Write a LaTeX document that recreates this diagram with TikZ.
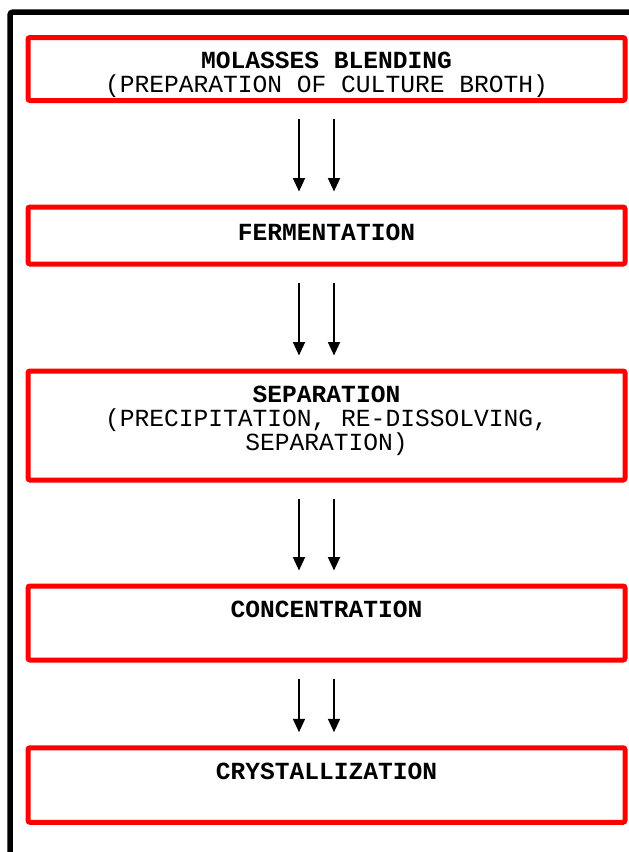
\documentclass[tikz,border=0pt]{standalone}
\usepackage{fontspec}
\newfontfamily\courier{Liberation Mono}
\usepackage{tikz}
\usetikzlibrary{positioning,calc,arrows.meta}
\definecolor{boxRed}{RGB}{255, 0, 0}
\tikzset{
    stage/.style={draw=boxRed,line width=5pt,rounded corners=2pt,minimum width=597pt,inner sep=0pt},
    stagetext/.style={anchor=base,align=center,inner sep=0pt,font=\courier\fontsize{24.6}{24}\selectfont},
    flow/.style={-{Triangle[length=13.5pt,width=12pt]},line width=1.8pt,shorten <=16pt,shorten >=13pt}
}

\begin{document}
\begin{tikzpicture}[x=1pt,y=-1pt]
                \useasboundingbox (0,0) rectangle (629,852);
                % Outer frame
                \draw[line width=5.5pt,rounded corners=3pt] (10,852) -- (10,12) -- (629,12);

                % Process stages (text placed by the baseline of its last line)
                \node[stage,minimum height=63pt] (blend) at (326.5,69) {};
                \node[stagetext] (blendtxt) at ($(blend.north)+(0,57.5)$) {\textbf{MOLASSES BLENDING}\\(PREPARATION OF CULTURE BROTH)};

                \node[stage,minimum height=57pt] (ferm) at (326.5,235.5) {};
                \node[stagetext] (fermtxt) at ($(ferm.north)+(0,35.5)$) {\textbf{FERMENTATION}};

                \node[stage,minimum height=109pt] (sep) at (326.5,425.5) {};
                \node[stagetext] (septxt) at ($(sep.north)+(0,81.5)$) {\textbf{SEPARATION}\\(PRECIPITATION, RE-DISSOLVING,\\SEPARATION)};

                \node[stage,minimum height=74pt] (conc) at (326.5,623) {};
                \node[stagetext] (conctxt) at ($(conc.north)+(0,33.5)$) {\textbf{CONCENTRATION}};

                \node[stage,minimum height=74.5pt] (cryst) at (326.5,785) {};
                \node[stagetext] (crysttxt) at ($(cryst.north)+(0,34.5)$) {\textbf{CRYSTALLIZATION}};

                % Double arrows between stages
                \foreach \a/\b in {blend/ferm,ferm/sep,sep/conc,conc/cryst} {
                    \draw[flow] ([xshift=-27.5pt]\a.south) -- ([xshift=-27.5pt]\b.north);
                    \draw[flow] ([xshift=7.5pt]\a.south) -- ([xshift=7.5pt]\b.north);
                }
            \end{tikzpicture}
\end{document}
